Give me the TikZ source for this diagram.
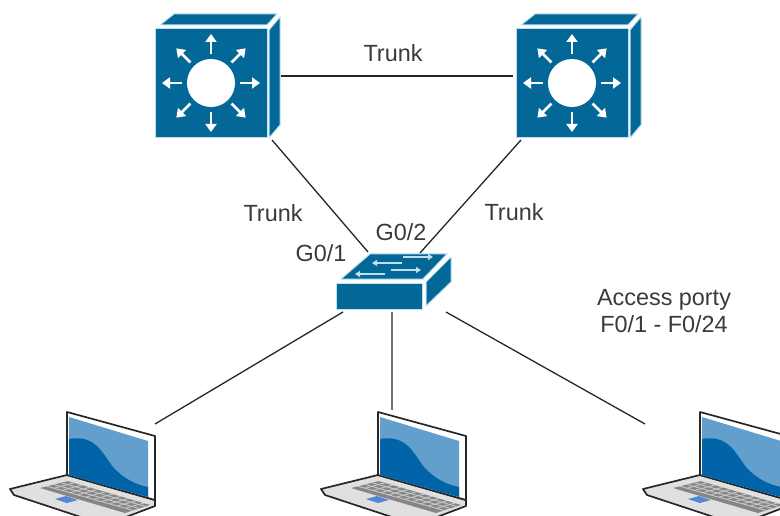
\documentclass[tikz,border=0pt]{standalone}
\usepackage{fontspec}
\setmainfont{Liberation Sans}
\usetikzlibrary{arrows.meta,calc}
\definecolor{ciscoblue}{HTML}{036897}
\definecolor{edgeblue}{HTML}{BFE0EE}
\definecolor{screenlight}{HTML}{629FCC}
\definecolor{screendark}{HTML}{0163A8}
\definecolor{textgrey}{HTML}{3A3A3A}
\tikzset{
  face/.style={fill=ciscoblue,draw=edgeblue,line width=1pt,line join=round},
  ray/.style={draw=white,line width=2.6pt,-{Triangle[length=8pt,width=11pt]}},
  flow/.style={draw=edgeblue,line width=1.8pt,-{Triangle[length=5pt,width=6pt]}},
  link/.style={draw=black!85,line width=1.3pt},
  graylink/.style={draw=black!55,line width=2.4pt},
  lbl/.style={font=\fontsize{23.4}{27}\selectfont,text=textgrey,inner sep=0pt,align=center}
}
\newcommand{\lthree}[3]{%
 \begin{scope}[shift={(#1,#2)}]
  \draw[face] (160,25)--(174,14)--(277,14)--(267,25)--cycle;
  \draw[face] (269,30)--(280,17)--(280,125)--(269,138)--cycle;
  \draw[face] (155,29)--(267,29)--(267,138)--(155,138)--cycle;
  \fill[white] (211,83) circle (24);
  \foreach \a in {0,45,...,315}{
   \draw[ray] ($(211,83)+(\a:29)$) -- ($(211,83)+(\a:49)$);}
  \node[#3] at (217,76) {};
 \end{scope}}
\newcommand{\laptop}[2]{%
 \begin{scope}[shift={(#1,0)}]
  \fill[black!12,draw=black!85,line width=1.7pt,line join=round] (10,489)--(67,475)--(155,500)--(155,506)--(105,525)--(14,495)--cycle;
  \fill[black!48] (40,488)--(68,481)--(150,505)--(125,513)--cycle;
  \begin{scope}
   \clip (40,488)--(68,481)--(150,505)--(125,513)--cycle;
   \foreach \k in {0,1,...,12}{\draw[black!22,line width=.9pt] (46+\k*8,486+\k*2.2) -- (68+\k*8,492+\k*2.2-12);}
   \foreach \k in {0,1,2,3}{\draw[black!22,line width=.9pt] (46+\k*7,486-\k*1.8) -- (135+\k*7,511-\k*1.8);}
  \end{scope}
  \fill[screenlight!85!blue] (55,499) -- (66,496) -- (78,500) -- (67,503) -- cycle;
  \draw[fill=white,draw=black!85,line width=1.7pt,line join=round] (67,412)--(155,436)--(155,500)--(67,475)--cycle;
  \fill[screenlight] (69,417)--(148,441)--(148,497)--(69,475)--cycle;
  \fill[screendark] (69,439) .. controls (100,433) and (105,462) .. (118,472) .. controls (128,481) and (138,485) .. (148,487) -- (148,497) -- (69,475) -- cycle;
  \node[#2] at (111,460) {};
 \end{scope}}
\begin{document}
\begin{tikzpicture}[x=1pt,y=-1pt]
\useasboundingbox (0,0) rectangle (780,516);
\clip (0,0) rectangle (780,516);
\lthree{0}{0}{name=coreL}
\lthree{361}{0}{name=coreR}
\draw[face] (341,279)--(370,254)--(447,254)--(423,279)--cycle;
\draw[face] (426,282)--(451,257)--(451,282)--(426,306)--cycle;
\draw[face] (336,283)--(422,283)--(422,309)--(336,309)--cycle;
\node[name=sw] at (393,282) {};
\draw[flow] (403,257)--(433,257);
\draw[flow] (402,263)--(372,263);
\draw[flow] (391,270)--(421,270);
\draw[flow] (385,274)--(355,274);
\laptop{0}{name=pcA}
\laptop{311}{name=pcB}
\laptop{633}{name=pcC}
\coordinate (a1) at (281,76); \coordinate (a2) at (513,76);
\coordinate (b1) at (272,140); \coordinate (b2) at (368,252);
\coordinate (c1) at (521,140); \coordinate (c2) at (420,253);
\coordinate (d1) at (343,312); \coordinate (d2) at (155,424);
\coordinate (e1) at (392,312); \coordinate (e2) at (392,410);
\coordinate (f1) at (446,312); \coordinate (f2) at (645,424);
\draw[link] (a1)--(a2);
\draw[link] (b1)--(b2);
\draw[link] (c1)--(c2);
\draw[link] (d1)--(d2);
\draw[graylink] (e1)--(e2);
\draw[link] (f1)--(f2);
\node[lbl] (t1) at (393,53) {Trunk};
\node[lbl] (t2) at (273,213) {Trunk};
\node[lbl] (t3) at (514,212) {Trunk};
\node[lbl] (g1) at (321,253) {G0/1};
\node[lbl] (g2) at (401,232) {G0/2};
\node[lbl] (acc) at (664,311) {Access porty\\F0/1 - F0/24};
\end{tikzpicture}
\end{document}
